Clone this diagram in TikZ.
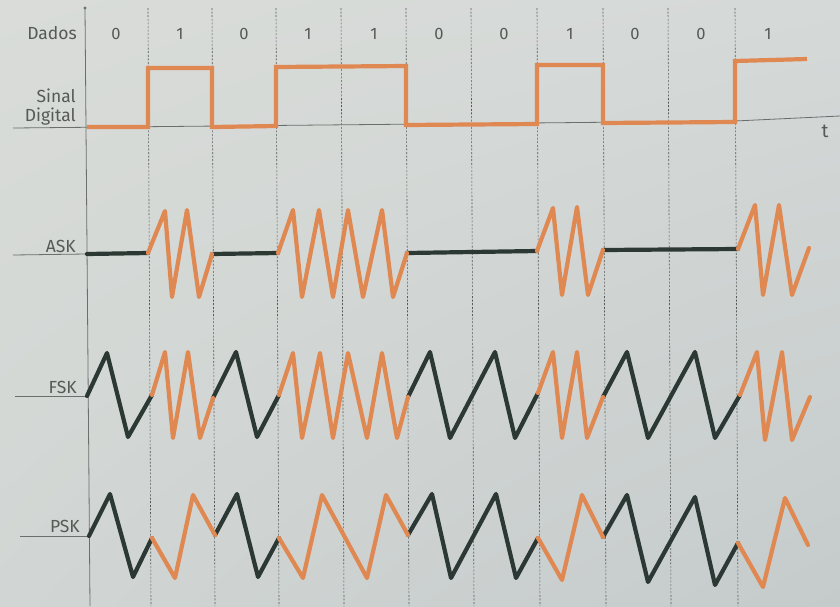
\documentclass[tikz,border=0pt]{standalone}
\usepackage{fontspec}
\setmainfont{Fira Sans}
\usetikzlibrary{shadings}
\definecolor{bgA}{HTML}{D9DCD8}
\definecolor{bgB}{HTML}{D5D9D8}
\definecolor{bgC}{HTML}{D1D6D4}
\definecolor{bgD}{HTML}{C5CBCB}
\definecolor{sigorange}{HTML}{E08852}
\definecolor{sigdark}{HTML}{2C3833}
\definecolor{txtgrey}{HTML}{555A57}
\definecolor{axgrey}{HTML}{6A6F6D}
\begin{document}
\begin{tikzpicture}[x=1pt,y=-1pt,
  lab/.style={text=txtgrey,font=\fontsize{17.5}{19}\selectfont,inner sep=0pt},
  bitlab/.style={text=txtgrey,font=\fontsize{16.5}{19}\selectfont,inner sep=0pt},
  axisline/.style={draw=axgrey,line width=0.8pt},
  gridline/.style={draw=axgrey!80!black,line width=0.6pt,dash pattern=on 2pt off 1.6pt},
  hi/.style={draw=sigorange,line width=4.2pt,line join=round,line cap=round},
  lo/.style={draw=sigdark,line width=4.2pt,line join=round,line cap=round},
  dig/.style={draw=sigorange,line width=4.2pt,line join=miter,line cap=butt}]
\useasboundingbox (0,0) rectangle (840,606);
\shade[upper left=bgA,upper right=bgB,lower left=bgC,lower right=bgD] (0,0) rectangle (840,606);

% grid (bit boundaries)
\foreach \xa in {148,212,276,341,406,471,537,603,668,735}
  \draw[gridline] (\xa,8) -- (\xa+3,606);

% axes
\draw[axisline] (85,8) -- (90,606);
\fill[axgrey] (85,8) circle (1.7);
\draw[axisline] (13,128) -- (735,121) -- (840,116);
\draw[axisline] (13,255) -- (86,254);
\draw[axisline] (15,396) -- (88,396);
\draw[axisline] (20,536) -- (89,536);

% labels
\node[lab,anchor=base east] (dados) at (77,39) {Dados};
\node[lab,anchor=base east] (sinal) at (76,102) {Sinal};
\node[lab,anchor=base east] (digital) at (76,121) {Digital};
\node[lab,anchor=base east] (ask) at (76,252) {ASK};
\node[lab,anchor=base east] (fsk) at (77,393) {FSK};
\node[lab,anchor=base east] (psk) at (80,532) {PSK};
\node[lab,anchor=base,font=\fontsize{19}{21}\selectfont] (tlab) at (825,137) {t};

\foreach \xc/\b [count=\i] in {116/0,180/1,244/0,308/1,374/1,439/0,504/0,570/1,635/0,701/0,768/1}
  \node[bitlab,anchor=base] (bit\i) at (\xc,39) {\b};

% digital signal
\draw[dig] (87,127) -- (148,127) -- (148,68) -- (212,68) -- (212,127) -- (276,126)
  -- (276,67) -- (406,66) -- (406,125) -- (537,124) -- (537,65) -- (603,65)
  -- (603,123) -- (735,122) -- (735,61) -- (807,59);

% ASK
\draw[lo] (87,254) -- (148,253);
\draw[lo] (212,254) -- (278,253);
\draw[lo] (407,253) -- (537,251);
\draw[lo] (603,250) -- (738,249);
\draw[hi] (148,253) -- (165,211) -- (172,297) -- (187,210) -- (199,297) -- (212,254);
\draw[hi] (278,253) -- (293,210) -- (302,297) -- (319,210) -- (333,297) -- (348,210)
  -- (363,297) -- (382,210) -- (393,297) -- (407,253);
\draw[hi] (537,251) -- (553,208) -- (562,295) -- (577,207) -- (588,295) -- (603,250);
\draw[hi] (738,249) -- (755,205) -- (763,295) -- (779,205) -- (792,295) -- (809,248);

% FSK
\draw[lo] (87,396) -- (107,353) -- (128,437) -- (152,395);
\draw[lo] (213,398) -- (236,352) -- (257,437) -- (279,395);
\draw[lo] (408,397) -- (430,352) -- (450,438) -- (495,352) -- (515,438) -- (538,393);
\draw[lo] (603,397) -- (627,352) -- (648,438) -- (695,352) -- (715,438) -- (740,395);
\draw[hi] (152,395) -- (165,352) -- (173,438) -- (188,352) -- (200,438) -- (213,398);
\draw[hi] (279,395) -- (293,353) -- (302,438) -- (320,353) -- (333,438) -- (348,353)
  -- (367,438) -- (382,353) -- (397,438) -- (408,397);
\draw[hi] (538,393) -- (553,352) -- (562,438) -- (577,352) -- (587,438) -- (603,397);
\draw[hi] (740,395) -- (757,352) -- (765,440) -- (782,352) -- (792,440) -- (810,397);

% PSK
\draw[lo] (89,536) -- (110,494) -- (133,577) -- (152,538);
\draw[lo] (215,535) -- (237,494) -- (258,577) -- (279,538);
\draw[lo] (408,535) -- (432,494) -- (451,578) -- (496,494) -- (516,578) -- (538,538);
\draw[lo] (603,537) -- (627,495) -- (648,582) -- (695,497) -- (715,585) -- (738,543);
\draw[hi] (152,538) -- (175,578) -- (193,495) -- (215,535);
\draw[hi] (279,538) -- (303,578) -- (322,495) -- (367,578) -- (386,495) -- (408,535);
\draw[hi] (538,538) -- (562,580) -- (582,495) -- (603,537);
\draw[hi] (738,543) -- (763,587) -- (785,498) -- (808,545);
\end{tikzpicture}
\end{document}
